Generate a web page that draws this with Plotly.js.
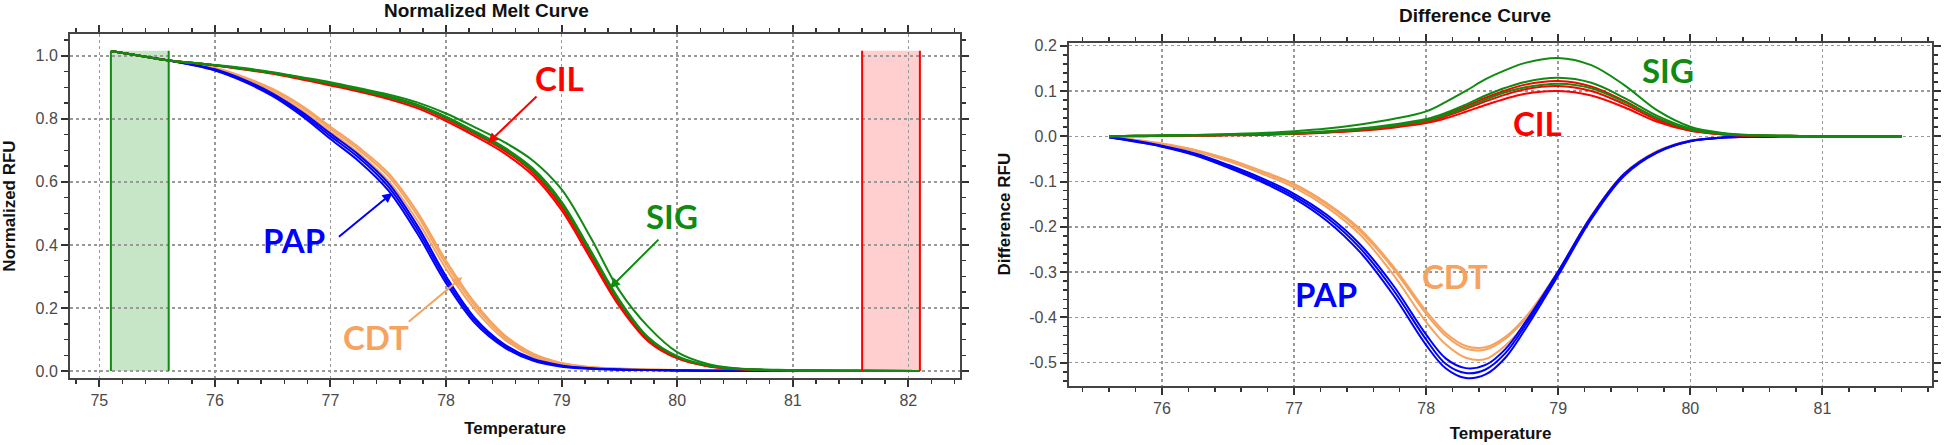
<!DOCTYPE html>
<html>
<head>
<meta charset="utf-8">
<script src="https://cdn.plot.ly/plotly-3.0.1.min.js"></script>
<style>
  html, body { margin: 0; padding: 0; background: #fff; }
  #plotArea { width: 1944px; height: 445px; }
</style>
</head>
<body>
<div id="plotArea"></div>
<script>
// ---- Normalized melt curve (left) ----
var meltTemp = [75.1, 75.35, 75.6, 75.8, 76.0, 76.25, 76.5, 76.75, 77.0, 77.25, 77.5, 77.75, 78.0,
                78.25, 78.5, 78.75, 79.0, 79.25, 79.5, 79.75, 80.0, 80.25, 80.5, 81.0, 81.5, 82.1];

var papMelt1 = [1.015, 1.000, 0.985, 0.971, 0.953, 0.918, 0.872, 0.810, 0.736, 0.664, 0.573, 0.437, 0.279, 0.152, 0.076, 0.033, 0.014, 0.007, 0.004, 0.003, 0.002, 0.001, 0.001, 0.000, 0.000, 0.000];
var papMelt2 = [1.015, 1.000, 0.985, 0.972, 0.955, 0.921, 0.876, 0.816, 0.745, 0.675, 0.585, 0.450, 0.290, 0.160, 0.081, 0.036, 0.016, 0.008, 0.005, 0.003, 0.002, 0.001, 0.001, 0.000, 0.000, 0.000];
var papMelt3 = [1.015, 1.000, 0.985, 0.973, 0.957, 0.924, 0.880, 0.822, 0.753, 0.684, 0.596, 0.462, 0.301, 0.168, 0.086, 0.039, 0.018, 0.009, 0.005, 0.003, 0.002, 0.001, 0.001, 0.000, 0.000, 0.000];

var cdtMelt1 = [1.015, 1.000, 0.986, 0.976, 0.962, 0.933, 0.895, 0.842, 0.775, 0.708, 0.628, 0.505, 0.350, 0.216, 0.116, 0.056, 0.026, 0.013, 0.008, 0.005, 0.003, 0.002, 0.002, 0.001, 0.000, 0.000];
var cdtMelt2 = [1.015, 1.000, 0.986, 0.975, 0.960, 0.930, 0.890, 0.836, 0.768, 0.700, 0.618, 0.494, 0.339, 0.207, 0.110, 0.052, 0.024, 0.012, 0.007, 0.005, 0.003, 0.002, 0.002, 0.001, 0.000, 0.000];
var cdtMelt3 = [1.015, 1.000, 0.985, 0.974, 0.958, 0.927, 0.884, 0.828, 0.759, 0.689, 0.604, 0.478, 0.324, 0.195, 0.102, 0.047, 0.021, 0.011, 0.006, 0.004, 0.003, 0.002, 0.001, 0.001, 0.000, 0.000];

var cilMelt1 = [1.015, 1.000, 0.985, 0.978, 0.970, 0.959, 0.946, 0.930, 0.912, 0.893, 0.871, 0.844, 0.805, 0.758, 0.707, 0.638, 0.528, 0.373, 0.217, 0.101, 0.044, 0.018, 0.007, 0.002, 0.001, 0.000];
var cilMelt2 = [1.015, 1.000, 0.985, 0.978, 0.970, 0.958, 0.945, 0.928, 0.910, 0.890, 0.868, 0.840, 0.800, 0.752, 0.700, 0.630, 0.520, 0.366, 0.212, 0.098, 0.042, 0.017, 0.007, 0.002, 0.001, 0.000];
var cilMelt3 = [1.015, 1.000, 0.985, 0.977, 0.969, 0.956, 0.943, 0.925, 0.906, 0.886, 0.863, 0.834, 0.793, 0.745, 0.692, 0.621, 0.510, 0.357, 0.205, 0.094, 0.040, 0.016, 0.006, 0.002, 0.001, 0.000];

var sigMelt1 = [1.015, 1.000, 0.985, 0.978, 0.971, 0.961, 0.948, 0.932, 0.916, 0.897, 0.877, 0.852, 0.817, 0.773, 0.727, 0.668, 0.576, 0.424, 0.255, 0.140, 0.060, 0.024, 0.009, 0.003, 0.001, 0.000];
var sigMelt2 = [1.015, 1.000, 0.985, 0.978, 0.970, 0.959, 0.946, 0.930, 0.913, 0.893, 0.872, 0.845, 0.807, 0.760, 0.710, 0.643, 0.537, 0.383, 0.226, 0.107, 0.047, 0.019, 0.008, 0.002, 0.001, 0.000];
var sigMelt3 = [1.015, 1.000, 0.985, 0.978, 0.970, 0.958, 0.945, 0.929, 0.911, 0.891, 0.869, 0.842, 0.803, 0.756, 0.705, 0.636, 0.530, 0.376, 0.220, 0.103, 0.045, 0.018, 0.007, 0.002, 0.001, 0.000];

// normalization windows (pre-melt / post-melt), in degrees
var preMelt = [75.1, 75.6];
var postMelt = [81.6, 82.1];

// ---- Difference curve (right) ----
var diffTemp = [75.6, 75.8, 76.0, 76.25, 76.5, 76.75, 77.0, 77.25, 77.5, 77.75, 78.0, 78.15, 78.3, 78.45,
                78.6, 78.75, 79.0, 79.25, 79.5, 79.75, 80.0, 80.25, 80.5, 80.75, 81.0, 81.3, 81.6];

var papDiff1 = [-0.002, -0.012, -0.023, -0.042, -0.069, -0.100, -0.137, -0.187, -0.256, -0.350, -0.461, -0.513, -0.534, -0.526, -0.489, -0.426, -0.307, -0.183, -0.087, -0.036, -0.011, -0.003, -0.001, 0, 0, 0, 0];
var papDiff2 = [-0.002, -0.011, -0.022, -0.040, -0.066, -0.096, -0.132, -0.180, -0.247, -0.339, -0.449, -0.503, -0.523, -0.515, -0.479, -0.418, -0.302, -0.180, -0.085, -0.035, -0.011, -0.003, -0.001, 0, 0, 0, 0];
var papDiff3 = [-0.002, -0.010, -0.021, -0.038, -0.063, -0.092, -0.127, -0.174, -0.239, -0.329, -0.438, -0.491, -0.512, -0.505, -0.470, -0.411, -0.298, -0.177, -0.083, -0.034, -0.010, -0.003, -0.001, 0, 0, 0, 0];

var cdtDiff1 = [-0.001, -0.008, -0.016, -0.030, -0.050, -0.076, -0.105, -0.148, -0.205, -0.287, -0.386, -0.435, -0.463, -0.466, -0.443, -0.400, -0.298, -0.176, -0.082, -0.033, -0.010, -0.003, -0.001, 0, 0, 0, 0];
var cdtDiff2 = [-0.001, -0.008, -0.017, -0.031, -0.052, -0.078, -0.108, -0.151, -0.209, -0.292, -0.392, -0.441, -0.469, -0.471, -0.447, -0.404, -0.299, -0.177, -0.083, -0.033, -0.010, -0.003, -0.001, 0, 0, 0, 0];
var cdtDiff3 = [-0.001, -0.009, -0.018, -0.033, -0.055, -0.082, -0.113, -0.157, -0.217, -0.305, -0.410, -0.460, -0.489, -0.492, -0.462, -0.414, -0.300, -0.177, -0.083, -0.033, -0.010, -0.003, -0.001, 0, 0, 0, 0];

var cilDiff1 = [0, 0.001, 0.001, 0.002, 0.003, 0.004, 0.006, 0.010, 0.016, 0.024, 0.036, 0.049, 0.066, 0.085, 0.101, 0.114, 0.122, 0.110, 0.078, 0.040, 0.015, 0.005, 0.002, 0.001, 0, 0, 0];
var cilDiff2 = [0, 0, 0.001, 0.002, 0.003, 0.004, 0.006, 0.009, 0.014, 0.022, 0.032, 0.044, 0.060, 0.077, 0.092, 0.104, 0.111, 0.100, 0.071, 0.036, 0.013, 0.004, 0.001, 0, 0, 0, 0];
var cilDiff3 = [0, 0, 0.001, 0.001, 0.002, 0.003, 0.005, 0.008, 0.012, 0.019, 0.029, 0.040, 0.054, 0.069, 0.083, 0.094, 0.100, 0.090, 0.064, 0.032, 0.012, 0.004, 0.001, 0, 0, 0, 0];

var sigDiff1 = [0, 0.001, 0.002, 0.003, 0.005, 0.007, 0.011, 0.017, 0.026, 0.038, 0.055, 0.076, 0.100, 0.126, 0.146, 0.162, 0.173, 0.157, 0.113, 0.057, 0.021, 0.007, 0.002, 0.001, 0, 0, 0];
var sigDiff2 = [0, 0.001, 0.001, 0.002, 0.003, 0.005, 0.007, 0.011, 0.017, 0.026, 0.038, 0.052, 0.070, 0.090, 0.107, 0.120, 0.129, 0.118, 0.085, 0.045, 0.017, 0.005, 0.002, 0.001, 0, 0, 0];
var sigDiff3 = [0, 0.001, 0.001, 0.002, 0.003, 0.004, 0.006, 0.010, 0.015, 0.023, 0.034, 0.047, 0.063, 0.081, 0.097, 0.108, 0.116, 0.106, 0.076, 0.040, 0.015, 0.005, 0.002, 0.001, 0, 0, 0];

// tick labels
var meltYTicks = [0, 0.2, 0.4, 0.6, 0.8, 1.0];
var meltYLabels = ['0.0', '0.2', '0.4', '0.6', '0.8', '1.0'];
var diffYTicks = [-0.5, -0.4, -0.3, -0.2, -0.1, 0, 0.1, 0.2];
var diffYLabels = ['-0.5', '-0.4', '-0.3', '-0.2', '-0.1', '0.0', '0.1', '0.2'];

var BLUE = '#0000ff', ORANGE = '#f5a35f', RED = '#ff0000', GREEN = '#118a11';
var W = 1944, H = 445;

function line(x, y, color, xa, ya) {
  return {
    x: x, y: y, type: 'scatter', mode: 'lines',
    xaxis: xa, yaxis: ya, hoverinfo: 'skip',
    line: {color: color, width: 2, shape: 'spline', smoothing: 1}
  };
}

var data = [
  line(meltTemp, cdtMelt1, ORANGE, 'x', 'y'),
  line(meltTemp, cdtMelt2, ORANGE, 'x', 'y'),
  line(meltTemp, cdtMelt3, ORANGE, 'x', 'y'),
  line(meltTemp, papMelt1, BLUE, 'x', 'y'),
  line(meltTemp, papMelt2, BLUE, 'x', 'y'),
  line(meltTemp, papMelt3, BLUE, 'x', 'y'),
  line(meltTemp, cilMelt1, RED, 'x', 'y'),
  line(meltTemp, cilMelt2, RED, 'x', 'y'),
  line(meltTemp, cilMelt3, RED, 'x', 'y'),
  line(meltTemp, sigMelt3, GREEN, 'x', 'y'),
  line(meltTemp, sigMelt2, GREEN, 'x', 'y'),
  line(meltTemp, sigMelt1, GREEN, 'x', 'y'),

  line(diffTemp, cdtDiff1, ORANGE, 'x2', 'y2'),
  line(diffTemp, cdtDiff2, ORANGE, 'x2', 'y2'),
  line(diffTemp, cdtDiff3, ORANGE, 'x2', 'y2'),
  line(diffTemp, papDiff1, BLUE, 'x2', 'y2'),
  line(diffTemp, papDiff2, BLUE, 'x2', 'y2'),
  line(diffTemp, papDiff3, BLUE, 'x2', 'y2'),
  line(diffTemp, cilDiff1, RED, 'x2', 'y2'),
  line(diffTemp, cilDiff2, RED, 'x2', 'y2'),
  line(diffTemp, cilDiff3, RED, 'x2', 'y2'),
  line(diffTemp, sigDiff3, GREEN, 'x2', 'y2'),
  line(diffTemp, sigDiff2, GREEN, 'x2', 'y2'),
  line(diffTemp, sigDiff1, GREEN, 'x2', 'y2')
];

function axisStyle(extra) {
  var base = {
    ticks: 'outside', ticklen: 7, tickwidth: 2, tickcolor: '#333',
    showline: true, linecolor: '#444', linewidth: 2, mirror: 'allticks',
    showgrid: true, gridcolor: '#999', griddash: 'dot', gridwidth: 1.5,
    zeroline: false, fixedrange: true,
    tickfont: {family: 'Liberation Sans, Arial, sans-serif', size: 16, color: '#4a4a4a'}
  };
  for (var k in extra) base[k] = extra[k];
  return base;
}
var axTitleFont = {family: 'Liberation Sans, Arial, sans-serif', size: 17, color: '#111', weight: 'bold'};

var layout = {
  width: W, height: H,
  margin: {l: 0, r: 0, t: 0, b: 0},
  showlegend: false,
  paper_bgcolor: '#fff', plot_bgcolor: '#fff',
  xaxis: axisStyle({
    domain: [70 / W, 960 / W], range: [74.746, 82.447],
    tickmode: 'linear', tick0: 75, dtick: 1,
    minor: {dtick: 0.2, tick0: 75, ticklen: 4, tickwidth: 1.5, tickcolor: '#333', showgrid: false},
    title: {text: 'Temperature', font: axTitleFont, standoff: 14}
  }),
  yaxis: axisStyle({
    domain: [1 - 378 / H, 1 - 34 / H], range: [-0.022, 1.069],
    tickmode: 'array', tickvals: meltYTicks, ticktext: meltYLabels,
    minor: {tickmode: 'linear', dtick: 0.05, tick0: 0, ticklen: 4, tickwidth: 1.5, tickcolor: '#333', showgrid: false},
    title: {text: 'Normalized RFU', font: axTitleFont, standoff: 17}
  }),
  xaxis2: axisStyle({
    anchor: 'y2',
    domain: [1069 / W, 1932 / W], range: [75.296, 81.83],
    tickmode: 'linear', tick0: 76, dtick: 1,
    minor: {dtick: 0.2, tick0: 76, ticklen: 4, tickwidth: 1.5, tickcolor: '#333', showgrid: false},
    title: {text: 'Temperature', font: axTitleFont, standoff: 11}
  }),
  yaxis2: axisStyle({
    anchor: 'x2',
    domain: [1 - 385.7 / H, 1 - 42.7 / H], range: [-0.5508, 0.2066],
    tickmode: 'array', tickvals: diffYTicks, ticktext: diffYLabels,
    minor: {tickmode: 'linear', dtick: 0.02, tick0: 0, ticklen: 4, tickwidth: 1.5, tickcolor: '#333', showgrid: false},
    title: {text: 'Difference RFU', font: axTitleFont, standoff: 14}
  }),
  shapes: [
    {type: 'rect', xref: 'x', yref: 'y', x0: preMelt[0], x1: preMelt[1], y0: 0, y1: 1.016,
     fillcolor: 'rgba(30,150,30,0.25)', line: {width: 0}, layer: 'below'},
    {type: 'line', xref: 'x', yref: 'y', x0: preMelt[0], x1: preMelt[0], y0: 0, y1: 1.016, line: {color: GREEN, width: 2}},
    {type: 'line', xref: 'x', yref: 'y', x0: preMelt[1], x1: preMelt[1], y0: 0, y1: 1.016, line: {color: GREEN, width: 2}},
    {type: 'rect', xref: 'x', yref: 'y', x0: postMelt[0], x1: postMelt[1], y0: 0, y1: 1.016,
     fillcolor: 'rgba(255,60,60,0.25)', line: {width: 0}, layer: 'below'},
    {type: 'line', xref: 'x', yref: 'y', x0: postMelt[0], x1: postMelt[0], y0: 0, y1: 1.016, line: {color: RED, width: 2}},
    {type: 'line', xref: 'x', yref: 'y', x0: postMelt[1], x1: postMelt[1], y0: 0, y1: 1.016, line: {color: RED, width: 2}}
  ],
  annotations: []
};

// chart titles
var titleFont = {family: 'Liberation Sans, Arial, sans-serif', size: 19, color: '#111', weight: 'bold'};
layout.annotations.push(
  {text: 'Normalized Melt Curve', xref: 'paper', yref: 'paper', x: 486 / W, y: 1 - 10 / H,
   xanchor: 'center', yanchor: 'middle', showarrow: false, font: titleFont},
  {text: 'Difference Curve', xref: 'paper', yref: 'paper', x: 1475 / W, y: 1 - 16 / H,
   xanchor: 'center', yanchor: 'middle', showarrow: false, font: titleFont}
);

// group labels
function label(txt, color, xa, ya, x, y) {
  return {text: txt, xref: xa, yref: ya, x: x, y: y, showarrow: false,
          xanchor: 'center', yanchor: 'middle',
          font: {family: 'Lato, Open Sans, sans-serif', size: 33, color: color, weight: 'bold'}};
}
function arrow(color, x, y, ax, ay) {
  return {text: '', xref: 'x', yref: 'y', x: x, y: y, ax: ax, ay: ay, showarrow: true,
          arrowhead: 2, arrowsize: 1, arrowwidth: 2, arrowcolor: color};
}
layout.annotations.push(
  label('CIL', RED, 'x', 'y', 78.985, 0.929),
  label('SIG', GREEN, 'x', 'y', 79.955, 0.492),
  label('PAP', BLUE, 'x', 'y', 76.685, 0.415),
  label('CDT', ORANGE, 'x', 'y', 77.395, 0.108),
  arrow(RED, 78.363, 0.723, 50, -48),
  arrow(GREEN, 79.418, 0.263, 50, -50),
  arrow(BLUE, 77.536, 0.565, -55, 45),
  arrow(ORANGE, 78.14, 0.298, -55, 46),
  label('SIG', GREEN, 'x2', 'y2', 79.828, 0.146),
  label('CIL', RED, 'x2', 'y2', 78.844, 0.029),
  label('CDT', ORANGE, 'x2', 'y2', 78.216, -0.308),
  label('PAP', BLUE, 'x2', 'y2', 77.240, -0.348)
);

Plotly.newPlot('plotArea', data, layout, {staticPlot: true, displayModeBar: false});
</script>
</body>
</html>
